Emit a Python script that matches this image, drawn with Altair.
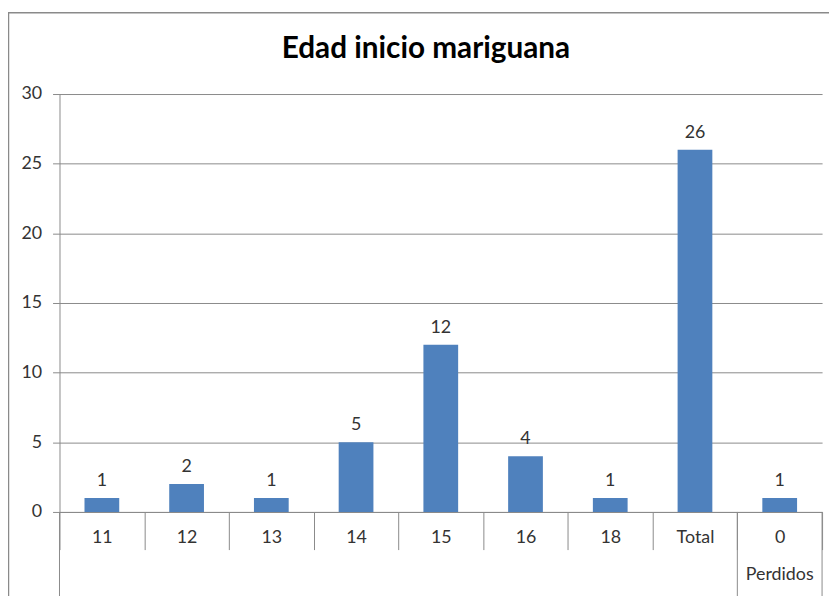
import altair as alt
import pandas as pd

categories = ["11", "12", "13", "14", "15", "16", "18", "Total", "0"]
values = [1, 2, 1, 5, 12, 4, 1, 26, 1]
group_cats = ["0"]
group_labels = ["Perdidos"]
y_ticks = [0, 5, 10, 15, 20, 25, 30]
chart_title = ["Edad inicio mariguana"]

df = pd.DataFrame({"cat": categories, "value": values})
df_group = pd.DataFrame({"cat": group_cats, "group": group_labels})
df_left = pd.DataFrame({"cat": [categories[0], group_cats[0]]})
df_right = pd.DataFrame({"cat": [group_cats[0]]})
df_one = pd.DataFrame({"a": [0]})
df_title = pd.DataFrame({"t": chart_title})

FONT = "Lato"
GRAY = "#8a8a8a"
TXT = "#333333"
FS = 18
W, H = 770, 422

xscale = alt.Scale(domain=categories, paddingInner=0, paddingOuter=0)

x_enc = alt.X(
    "cat:N", sort=categories, scale=xscale,
    axis=alt.Axis(title=None, labelAngle=0, tickBand="extent", tickSize=38,
                  tickColor=GRAY, domainColor=GRAY, labelPadding=-21,
                  labelFontSize=FS, labelFont=FONT, labelColor=TXT),
)
y_enc = alt.Y(
    "value:Q", scale=alt.Scale(domain=[0, 30]),
    axis=alt.Axis(title=None, values=y_ticks, grid=True, gridColor=GRAY,
                  domainColor=GRAY, tickColor=GRAY, tickSize=7, labelPadding=11,
                  labelFontSize=FS, labelFont=FONT, labelColor=TXT),
)

bars = alt.Chart(df).mark_bar(color="#4F81BD", width=alt.RelativeBandSize(0.41)).encode(
    x=x_enc, y=y_enc
)
labels = alt.Chart(df).mark_text(
    baseline="bottom", dy=-8, fontSize=FS, font=FONT, color=TXT
).encode(x=alt.X("cat:N", sort=categories, scale=xscale), y="value:Q", text="value:Q")

group_text = alt.Chart(df_group).mark_text(
    baseline="middle", fontSize=FS, font=FONT, color=TXT
).encode(x=alt.X("cat:N", sort=categories, scale=xscale), y=alt.value(486), text="group:N")

left_rules = alt.Chart(df_left).mark_rule(color=GRAY, strokeWidth=1).encode(
    x=alt.X("cat:N", sort=categories, scale=xscale, bandPosition=0),
    y=alt.value(H), y2=alt.value(H + 100),
)
right_rules = alt.Chart(df_right).mark_rule(color=GRAY, strokeWidth=1).encode(
    x=alt.X("cat:N", sort=categories, scale=xscale, bandPosition=1),
    y=alt.value(H), y2=alt.value(H + 100),
)
border = alt.Chart(df_one).mark_rect(fill=None, stroke=GRAY, strokeWidth=1.5).encode(
    x=alt.value(-51.5), x2=alt.value(W + 40), y=alt.value(-82), y2=alt.value(H + 150)
)
title = alt.Chart(df_title).mark_text(
    font=FONT, fontSize=30, fontWeight="bold", color="#000000",
    baseline="middle", align="center"
).encode(x=alt.value(370), y=alt.value(-45), text="t:N")

chart = alt.layer(border, bars, labels, group_text, left_rules, right_rules, title).properties(
    width=W, height=H,
    autosize=alt.AutoSizeParams(type="none"),
    padding={"left": 52, "top": 84, "right": 7, "bottom": 82},
).configure_view(stroke=None)

chart.save("out.html", embed_options={"renderer": "svg", "actions": False})
